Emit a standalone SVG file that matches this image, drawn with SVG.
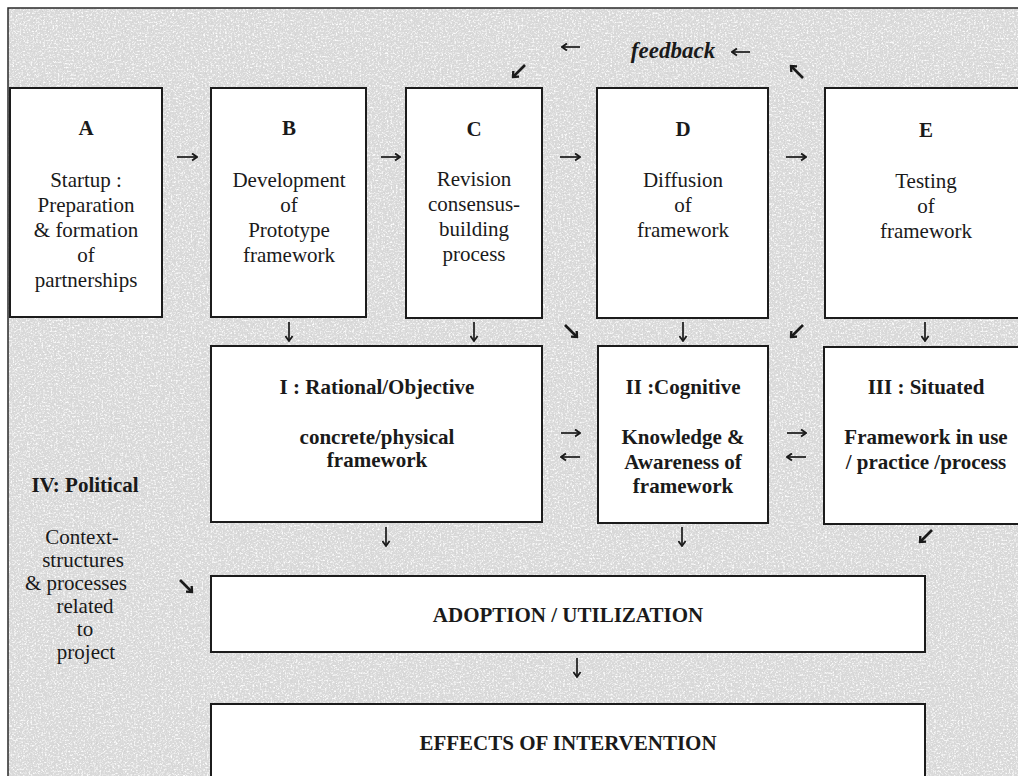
<svg xmlns="http://www.w3.org/2000/svg" width="1018" height="776" viewBox="0 0 1018 776">
  <defs>
    <style>
      .box { fill: #ffffff; stroke: #1c1c1c; stroke-width: 2; }
      .t { font-family: "Liberation Serif", "Times New Roman", serif; font-size: 21px; fill: #1a1a1a; text-anchor: middle; }
      .b { font-weight: bold; }
      .fb { font-family: "Liberation Serif", "Times New Roman", serif; font-size: 23px; font-weight: bold; font-style: italic; fill: #1a1a1a; text-anchor: middle; }
      .ar { stroke: #1a1a1a; stroke-width: 1.7; fill: none; marker-end: url(#head); }
      .dg { stroke: #1a1a1a; stroke-width: 2.6; fill: none; marker-end: url(#dhead); }
      .frame { stroke: #2a2a2a; stroke-width: 1.5; fill: none; }
    </style>
    <marker id="head" viewBox="0 0 10 10" refX="9" refY="5" markerWidth="9" markerHeight="9" markerUnits="userSpaceOnUse" orient="auto">
      <path d="M3.5,1 L9,5 L3.5,9" fill="none" stroke="#1a1a1a" stroke-width="2"/>
    </marker>
    <marker id="dhead" viewBox="0 0 10 10" refX="8" refY="5" markerWidth="9" markerHeight="9" markerUnits="userSpaceOnUse" orient="auto">
      <path d="M3,0.5 L8,5 L3,9.5" fill="none" stroke="#1a1a1a" stroke-width="2.6" stroke-linejoin="miter"/>
    </marker>
    <!-- speckled paper texture for the grey panel -->
    <filter id="grain" x="0" y="0" width="1" height="1">
      <feTurbulence type="fractalNoise" baseFrequency="0.55" numOctaves="3" seed="11" result="t"/>
      <feColorMatrix in="t" type="matrix" values="0 0 0 0 0.98  0 0 0 0 0.98  0 0 0 0 0.98  3.2 0 0 0 -1.55" result="w"/>
      <feColorMatrix in="t" type="matrix" values="0 0 0 0 0.6  0 0 0 0 0.6  0 0 0 0 0.6  0 -3 0 0 1.15" result="d"/>
      <feMerge>
        <feMergeNode in="SourceGraphic"/>
        <feMergeNode in="w"/>
        <feMergeNode in="d"/>
      </feMerge>
    </filter>
  </defs>

  <!-- page and grey textured panel -->
  <rect x="0" y="0" width="1018" height="776" fill="#ffffff"/>
  <rect x="8" y="8" width="1010" height="768" fill="#d9d9d9" filter="url(#grain)"/>
  <path class="frame" d="M8,776 L8,8 L1018,8"/>

  <!-- stage boxes -->
  <g id="node-a">
    <rect class="box" x="10" y="88" width="152" height="229"/>
    <text class="t b" x="86" y="135">A</text>
    <text class="t" x="86" y="187">Startup :</text>
    <text class="t" x="86" y="212">Preparation</text>
    <text class="t" x="86" y="237">&amp; formation</text>
    <text class="t" x="86" y="262">of</text>
    <text class="t" x="86" y="287">partnerships</text>
  </g>
  <g id="node-b">
    <rect class="box" x="211" y="88" width="155" height="229"/>
    <text class="t b" x="289" y="135">B</text>
    <text class="t" x="289" y="187">Development</text>
    <text class="t" x="289" y="212">of</text>
    <text class="t" x="289" y="237">Prototype</text>
    <text class="t" x="289" y="262">framework</text>
  </g>
  <g id="node-c">
    <rect class="box" x="406" y="88" width="136" height="230"/>
    <text class="t b" x="474" y="136">C</text>
    <text class="t" x="474" y="186">Revision</text>
    <text class="t" x="474" y="211">consensus-</text>
    <text class="t" x="474" y="236">building</text>
    <text class="t" x="474" y="261">process</text>
  </g>
  <g id="node-d">
    <rect class="box" x="597" y="88" width="171" height="230"/>
    <text class="t b" x="683" y="136">D</text>
    <text class="t" x="683" y="187">Diffusion</text>
    <text class="t" x="683" y="212">of</text>
    <text class="t" x="683" y="237">framework</text>
  </g>
  <g id="node-e">
    <rect class="box" x="825" y="88" width="200" height="230"/>
    <text class="t b" x="926" y="137">E</text>
    <text class="t" x="926" y="188">Testing</text>
    <text class="t" x="926" y="213">of</text>
    <text class="t" x="926" y="238">framework</text>
  </g>

  <!-- dimension boxes -->
  <g id="node-i">
    <rect class="box" x="211" y="346" width="331" height="176"/>
    <text class="t b" x="377" y="394">I : Rational/Objective</text>
    <text class="t b" x="377" y="444">concrete/physical</text>
    <text class="t b" x="377" y="467">framework</text>
  </g>
  <g id="node-ii">
    <rect class="box" x="598" y="346" width="170" height="177"/>
    <text class="t b" x="683" y="394">II :Cognitive</text>
    <text class="t b" x="683" y="444">Knowledge &amp;</text>
    <text class="t b" x="683" y="469">Awareness of</text>
    <text class="t b" x="683" y="493">framework</text>
  </g>
  <g id="node-iii">
    <rect class="box" x="824" y="347" width="200" height="177"/>
    <text class="t b" x="926" y="394">III : Situated</text>
    <text class="t b" x="926" y="444">Framework in use</text>
    <text class="t b" x="926" y="469">/ practice /process</text>
  </g>
  <g id="node-iv">
    <text class="t b" x="85" y="492">IV: Political</text>
    <text class="t" x="82" y="544">Context-</text>
    <text class="t" x="83" y="567">structures</text>
    <text class="t" x="76" y="590">&amp; processes</text>
    <text class="t" x="85" y="613">related</text>
    <text class="t" x="85" y="636">to</text>
    <text class="t" x="86" y="659">project</text>
  </g>

  <!-- outcome boxes -->
  <g id="node-adoption">
    <rect class="box" x="211" y="576" width="714" height="76"/>
    <text class="t b" x="568" y="622">ADOPTION / UTILIZATION</text>
  </g>
  <g id="node-effects">
    <rect class="box" x="211" y="704" width="714" height="80"/>
    <text class="t b" x="568" y="750">EFFECTS OF INTERVENTION</text>
  </g>

  <!-- feedback label -->
  <g id="feedback">
    <text class="fb" x="673" y="58">feedback</text>
  </g>

  <!-- connectors -->
  <g id="connectors">
    <!-- stage sequence -->
    <line class="ar" x1="177" y1="157" x2="197" y2="157"/>
    <line class="ar" x1="381" y1="157" x2="400" y2="157"/>
    <line class="ar" x1="560" y1="157" x2="580" y2="157"/>
    <line class="ar" x1="786" y1="157" x2="806" y2="157"/>
    <!-- feedback loop -->
    <line class="ar" x1="580" y1="47" x2="562" y2="47"/>
    <line class="ar" x1="750" y1="52" x2="732" y2="52"/>
    <line class="dg" x1="525" y1="65" x2="513" y2="77"/>
    <line class="dg" x1="803" y1="78" x2="791" y2="66"/>
    <!-- stages to dimensions -->
    <line class="ar" x1="289" y1="322" x2="289" y2="341"/>
    <line class="ar" x1="474" y1="322" x2="474" y2="341"/>
    <line class="dg" x1="565" y1="325" x2="577" y2="337"/>
    <line class="ar" x1="683" y1="322" x2="683" y2="341"/>
    <line class="dg" x1="803" y1="325" x2="791" y2="337"/>
    <line class="ar" x1="925" y1="322" x2="925" y2="341"/>
    <!-- between dimensions -->
    <line class="ar" x1="561" y1="433" x2="580" y2="433"/>
    <line class="ar" x1="580" y1="457" x2="561" y2="457"/>
    <line class="ar" x1="787" y1="433" x2="806" y2="433"/>
    <line class="ar" x1="806" y1="457" x2="787" y2="457"/>
    <!-- dimensions to adoption -->
    <line class="ar" x1="386" y1="527" x2="386" y2="546"/>
    <line class="ar" x1="682" y1="527" x2="682" y2="546"/>
    <line class="dg" x1="932" y1="530" x2="920" y2="542"/>
    <line class="dg" x1="180" y1="580" x2="192" y2="592"/>
    <!-- adoption to effects -->
    <line class="ar" x1="577" y1="658" x2="577" y2="677"/>
  </g>
</svg>
